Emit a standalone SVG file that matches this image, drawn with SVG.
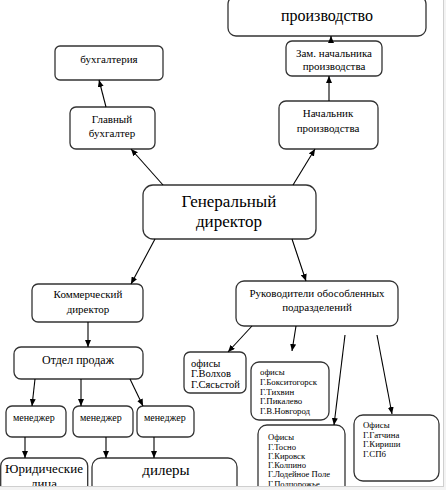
<svg xmlns="http://www.w3.org/2000/svg" width="446" height="490" viewBox="0 0 446 490">
<defs>
<marker id="ah" markerWidth="8" markerHeight="6" refX="7" refY="3" orient="auto" markerUnits="userSpaceOnUse">
<path d="M0,0 L7,3 L0,6 z" fill="#000"/>
</marker>
<style>
.box{fill:#fff;stroke:#333;stroke-width:1.3}
.t{font-family:'Liberation Serif','DejaVu Serif','Times New Roman',serif;fill:#000}
.c{text-anchor:middle}
.conn line{stroke:#000;stroke-width:1.1;marker-end:url(#ah)}
</style>
</defs>
<rect width="446" height="490" fill="#fff"/>
<g font-family="Liberation Serif, DejaVu Serif, serif">
<g id="proizvodstvo"><rect class="box" x="228" y="-4" width="198" height="40" rx="8"/><text class="t c" x="327" y="21" font-size="16">производство</text></g>
<g id="zam"><rect class="box" x="286" y="41" width="96" height="35" rx="6"/><text class="t c" x="334" y="57" font-size="11">Зам. начальника</text><text class="t c" x="334" y="70" font-size="11">производства</text></g>
<g id="nachalnik"><rect class="box" x="279" y="101" width="99" height="48" rx="7"/><text class="t c" x="328" y="117" font-size="11">Начальник</text><text class="t c" x="328" y="132" font-size="11">производства</text></g>
<g id="buh"><rect class="box" x="55" y="46" width="108" height="34" rx="5"/><text class="t c" x="109" y="63" font-size="11">бухгалтерия</text></g>
<g id="glavbuh"><rect class="box" x="70" y="107" width="85" height="42" rx="6"/><text class="t c" x="112" y="123" font-size="11">Главный</text><text class="t c" x="112" y="137" font-size="11">бухгалтер</text></g>
<g id="gendir"><rect class="box" x="143" y="185" width="173" height="54" rx="10" stroke-width="1.6"/><text class="t c" x="229" y="207" font-size="17">Генеральный</text><text class="t c" x="229" y="227" font-size="17">директор</text></g>
<g id="kommdir"><rect class="box" x="32" y="284" width="111" height="38" rx="6"/><text class="t c" x="88" y="298" font-size="11">Коммерческий</text><text class="t c" x="88" y="313" font-size="11">директор</text></g>
<g id="rukovod"><rect class="box" x="236" y="281" width="162" height="45" rx="8"/><text class="t c" x="317" y="297" font-size="11">Руководители обособленных</text><text class="t c" x="317" y="311" font-size="11">подразделений</text></g>
<g id="otdel"><rect class="box" x="14" y="347" width="129" height="32" rx="7"/><text class="t c" x="78" y="364" font-size="12">Отдел продаж</text></g>
<g id="men1"><rect class="box" x="6" y="406" width="60" height="31" rx="6"/><text class="t" x="13" y="421" font-size="10">менеджер</text></g>
<g id="men2"><rect class="box" x="73" y="406" width="60" height="31" rx="6"/><text class="t" x="80" y="421" font-size="10">менеджер</text></g>
<g id="men3"><rect class="box" x="137" y="406" width="57" height="31" rx="6"/><text class="t" x="144" y="421" font-size="10">менеджер</text></g>
<g id="yurlica"><rect class="box" x="0.7" y="458" width="87" height="42" rx="8"/><text class="t c" x="44" y="473" font-size="13">Юридические</text><text class="t c" x="44" y="488" font-size="13">лица</text></g>
<g id="dilery"><rect class="box" x="92" y="458" width="145" height="42" rx="9"/><text class="t c" x="166" y="475" font-size="15">дилеры</text></g>
<g id="ofis1"><rect class="box" x="184" y="352" width="62" height="41" rx="6"/><text class="t" x="191" y="366.5" font-size="10.5">офисы</text><text class="t" x="191" y="377" font-size="10.5">Г.Волхов</text><text class="t" x="191" y="387.5" font-size="10.5">Г.Сясьстой</text></g>
<g id="ofis2"><rect class="box" x="251" y="362" width="78" height="58" rx="8"/><g class="t" font-size="8.8"><text x="260" y="375">офисы</text><text x="260" y="385">Г.Бокситогорск</text><text x="260" y="394.5">Г.Тихвин</text><text x="260" y="404">Г.Пикалево</text><text x="260" y="413.5">Г.В.Новгород</text></g></g>
<g id="ofis3"><rect class="box" x="258" y="425" width="87" height="75" rx="9"/><g class="t" font-size="8.6"><text x="268" y="440">Офисы</text><text x="268" y="450">Г.Тосно</text><text x="268" y="459">Г.Кировск</text><text x="268" y="468">Г.Колпино</text><text x="268" y="477">Г.Лодейное Поле</text><text x="268" y="487">Г.Подпорожье</text></g></g>
<g id="ofis4"><rect class="box" x="354" y="415" width="85" height="66" rx="9"/><g class="t" font-size="8.8"><text x="363" y="428">Офисы</text><text x="363" y="437.5">Г.Гатчина</text><text x="363" y="447">Г.Кириши</text><text x="363" y="457">Г.СПб</text></g></g>
</g>
<g id="connectors" class="conn">
<line x1="106" y1="107" x2="99" y2="80"/>
<line x1="331" y1="41" x2="331" y2="36"/>
<line x1="329" y1="101" x2="329" y2="76"/>
<line x1="163" y1="185" x2="131" y2="149"/>
<line x1="293" y1="185" x2="315" y2="149"/>
<line x1="155" y1="239" x2="131" y2="284"/>
<line x1="292" y1="239" x2="306" y2="281"/>
<line x1="88" y1="322" x2="88" y2="347"/>
<line x1="35" y1="379" x2="32" y2="406"/>
<line x1="81" y1="379" x2="81" y2="406"/>
<line x1="130" y1="379" x2="143" y2="406"/>
<line x1="25" y1="437" x2="25" y2="458"/>
<line x1="106" y1="437" x2="106" y2="458"/>
<line x1="154" y1="437" x2="154" y2="458"/>
<line x1="252" y1="326" x2="228" y2="352"/>
<line x1="296" y1="326" x2="292" y2="351"/>
<line x1="345" y1="335" x2="334" y2="425"/>
<line x1="377" y1="335" x2="392" y2="414"/>
</g>
<rect x="443" y="0" width="3" height="490" fill="#f3f3f3"/>
<rect x="0" y="486.5" width="446" height="3.5" fill="#f3f3f3"/>
<line x1="443.5" y1="0" x2="443.5" y2="487" stroke="#cfcfcf"/>
<line x1="0" y1="486.5" x2="444" y2="486.5" stroke="#cfcfcf"/>
</svg>
